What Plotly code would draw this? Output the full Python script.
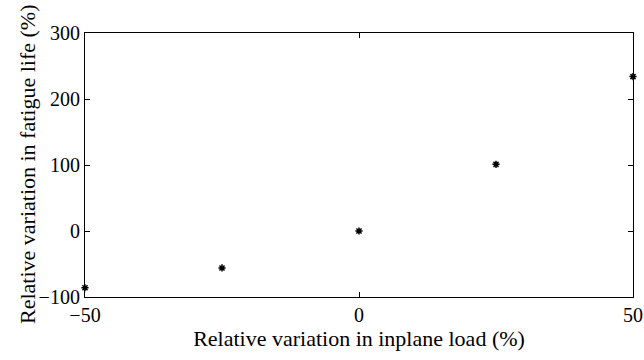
import plotly.graph_objects as go

x_vals = [-50, -25, 0, 25, 50]
y_vals = [-86, -56, 0, 101, 234]
x_ticks = [-50, 0, 50]
y_ticks = [-100, 0, 100, 200, 300]

fig = go.Figure()
fig.add_trace(go.Scatter(
    x=x_vals, y=y_vals, mode="markers",
    marker=dict(symbol="asterisk", size=6, color="black",
                line=dict(color="black", width=1.5)),
    cliponaxis=False, showlegend=False))

fam = "Liberation Serif, Times New Roman, serif"
tick_font = dict(family=fam, size=20, color="black")
title_font = dict(family=fam, size=22, color="black")
axis_common = dict(showgrid=False, zeroline=False, showline=True, linecolor="black",
                   linewidth=1.2, mirror="ticks", ticks="inside", ticklen=5,
                   tickcolor="black", tickwidth=1, tickfont=tick_font)
fig.update_layout(
    width=644, height=360,
    margin=dict(l=85, r=11, t=33, b=63),
    paper_bgcolor="white", plot_bgcolor="white",
    font=tick_font,
    xaxis=dict(range=[-50, 50], tickvals=x_ticks, ticktext=["\u221250", "0", "50"],
               title=dict(text="Relative variation in inplane load (%)", font=title_font, standoff=2),
               automargin=False, **axis_common),
    yaxis=dict(range=[-100, 300], tickvals=y_ticks,
               ticktext=["\u2212100", "0", "100", "200", "300"],
               automargin=False, **axis_common),
)
fig.add_annotation(
    text="Relative variation in fatigue life (%)", font=title_font,
    xref="paper", yref="paper", x=(27 - 85) / 548, y=0.5,
    xanchor="center", yanchor="middle", textangle=-90, showarrow=False)
fig.write_html("out.html")
